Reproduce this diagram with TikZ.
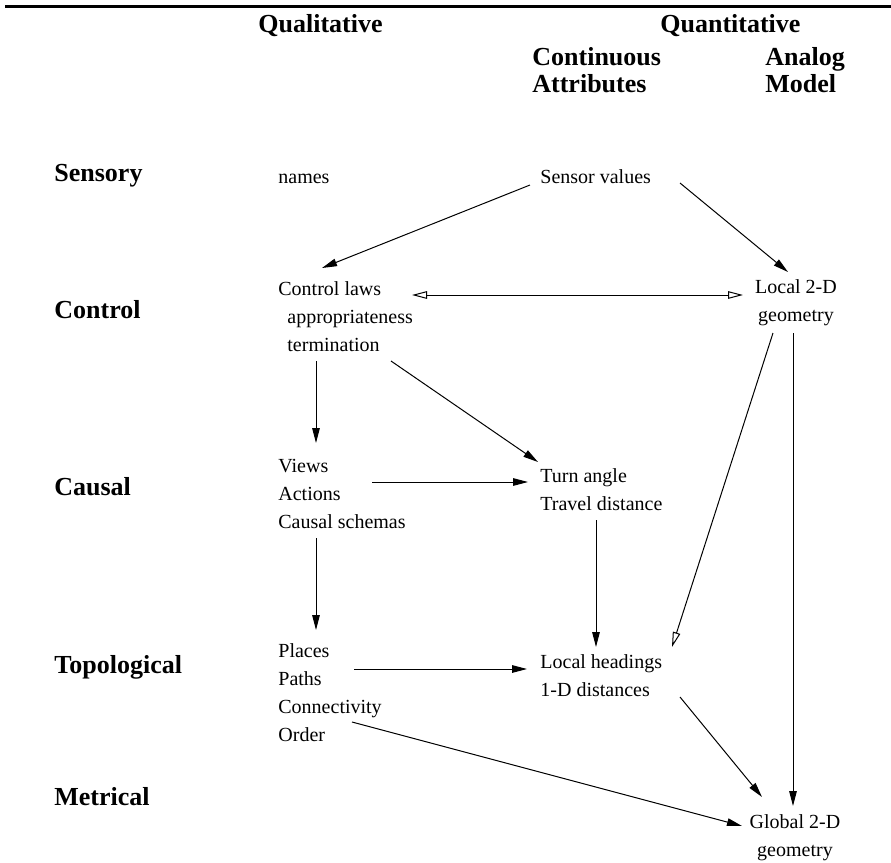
\documentclass[tikz,border=0pt]{standalone}
\usepackage{fontspec}
\setmainfont{Liberation Serif}
\usetikzlibrary{arrows.meta}
\tikzset{
  level/.style={font=\fontsize{13}{13.5}\selectfont\bfseries, inner sep=0pt, anchor=base west, align=left},
  entry/.style={font=\fontsize{10}{14}\selectfont, inner sep=0pt, anchor=base west, align=left},
  link/.style={-{Triangle[length=7.5pt,width=3.8pt]}, line width=0.5pt},
  openlink/.style={-{Triangle[open,length=7.5pt,width=3.8pt]}, line width=0.5pt},
  twoway/.style={{Triangle[open,length=7.5pt,width=3.8pt]}-{Triangle[open,length=7.5pt,width=3.8pt]}, line width=0.5pt}
}
\begin{document}
\begin{tikzpicture}[x=0.5pt,y=-0.5pt]
	\useasboundingbox (0,0) rectangle (891,863);
	%% top rule
	\draw[line width=1.5pt] (5,6) -- (891,6);
	%% column heads (multi-line nodes sit on their last line)
	\node[level] (qual) at (258,32) {Qualitative};
	\node[level] (quant) at (660,32) {Quantitative};
	\node[level] (cont) at (532,92) {Continuous\\Attributes};
	\node[level] (analog) at (765,92) {Analog\\Model};
	%% row heads
	\node[level] (sensory) at (54,181) {Sensory};
	\node[level] (control) at (54,318) {Control};
	\node[level] (causal) at (54,495) {Causal};
	\node[level] (topo) at (54,673) {Topological};
	\node[level] (metric) at (54,805) {Metrical};
	%% entries
	\node[entry] (names) at (278,183) {names};
	\node[entry] (sensor) at (540,183) {Sensor values};
	\node[entry] (ctrl) at (278,351) {Control laws\\\hspace*{4.5pt}appropriateness\\\hspace*{4.5pt}termination};
	\node[entry, anchor=base, align=center] (loc2d) at (796,321) {Local 2-D\\geometry};
	\node[entry] (views) at (278,528) {Views\\Actions\\Causal schemas};
	\node[entry] (turn) at (540,510) {Turn angle\\Travel distance};
	\node[entry] (places) at (278,741) {Places\\Paths\\Connectivity\\Order};
	\node[entry] (lochead) at (540,696) {Local headings\\1-D distances};
	\node[entry, anchor=base, align=center] (global) at (795,856) {Global 2-D\\geometry};
	%% connectors
	\draw[link] ([shift={(-10,2)}]sensor.base west) -- ([shift={(44,-83)}]ctrl.base west);
	\draw[link] ([shift={(140,0)}]sensor.base west) -- ([shift={(-8,-49)}]loc2d.base);
	\draw[twoway] ([shift={(134,-56)}]ctrl.base west) -- ([shift={(-53,-26)}]loc2d.base);
	\draw[link] ([shift={(38,10)}]ctrl.base west) -- ([shift={(38,-85)}]views.base west);
	\draw[link] ([shift={(113,10)}]ctrl.base west) -- ([shift={(-2,-48)}]turn.base west);
	\draw[link] ([shift={(94,-46)}]views.base west) -- ([shift={(-12,-28)}]turn.base west);
	\draw[link] ([shift={(38,10)}]views.base west) -- ([shift={(38,-111)}]places.base west);
	\draw[link] ([shift={(56,10)}]turn.base west) -- ([shift={(56,-49)}]lochead.base west);
	\draw[openlink] ([shift={(-23,12)}]loc2d.base) -- ([shift={(132,-49)}]lochead.base west);
	\draw[link] ([shift={(76,-72)}]places.base west) -- ([shift={(-13,-27)}]lochead.base west);
	\draw[link] ([shift={(-3,12)}]loc2d.base) -- ([shift={(-2,-50)}]global.base);
	\draw[link] ([shift={(140,1)}]lochead.base west) -- ([shift={(-33,-59)}]global.base);
	\draw[link] ([shift={(74,-19)}]places.base west) -- ([shift={(-53,-30)}]global.base);
\end{tikzpicture}
\end{document}
